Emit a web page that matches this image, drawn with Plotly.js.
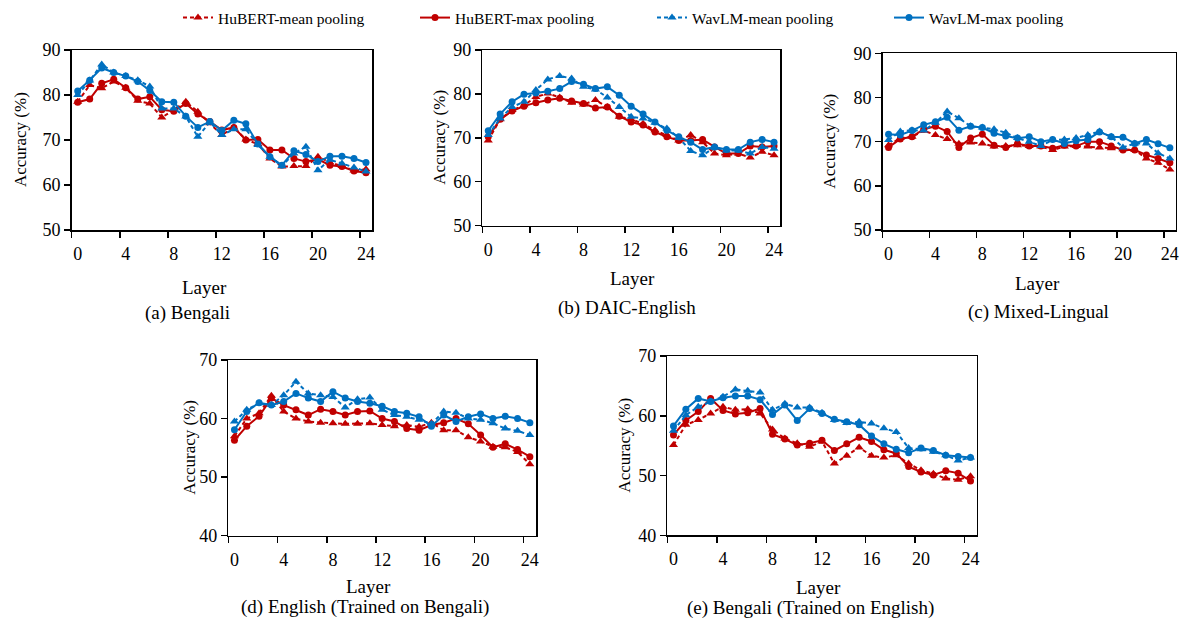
<!DOCTYPE html>
<html><head><meta charset="utf-8">
<script src="https://cdn.plot.ly/plotly-3.0.1.min.js"></script>
<style>html,body{margin:0;padding:0;background:#fff}#c{width:1185px;height:621px}</style>
</head><body><div id="c"></div>
<script>
const layers = [0,1,2,3,4,5,6,7,8,9,10,11,12,13,14,15,16,17,18,19,20,21,22,23,24];
const seriesNames = ["HuBERT-mean pooling","HuBERT-max pooling","WavLM-mean pooling","WavLM-max pooling"];
const panelCaptions = ["(a) Bengali","(b) DAIC-English","(c) Mixed-Lingual","(d) English (Trained on Bengali)","(e) Bengali (Trained on English)"];
const xTickVals = [0,4,8,12,16,20,24];

// (a) Bengali
const a_hubertMean = [78.5,82.2,81.5,83.0,81.6,78.7,78.1,75.0,76.7,78.5,76.3,73.7,71.1,72.8,70.1,69.1,65.9,64.1,64.2,64.2,66.3,65.0,64.2,63.2,63.5];
const a_hubertMax  = [78.4,79.1,82.6,83.5,81.6,79.1,79.6,76.7,76.4,78.1,75.8,74.1,72.2,72.8,70.0,70.1,67.8,67.8,65.9,65.2,65.7,64.4,64.1,63.1,62.7];
const a_wavlmMean  = [80.0,83.2,86.8,85.0,84.2,83.3,81.9,77.0,77.0,75.2,70.7,74.0,71.1,72.4,72.4,68.9,66.3,64.2,67.0,68.5,63.3,65.6,64.8,63.9,63.0];
const a_wavlmMax   = [80.9,83.3,86.0,85.0,84.2,83.0,81.0,78.5,78.4,75.3,72.8,74.1,72.1,74.4,73.6,69.1,66.3,64.4,67.6,66.8,65.2,66.4,66.4,65.9,65.0];
// (b) DAIC-English
const b_hubertMean = [69.4,74.2,76.3,77.4,79.3,80.1,79.2,78.0,77.6,78.6,77.0,74.8,74.2,73.2,71.7,70.6,69.4,70.6,69.0,66.4,66.0,66.4,65.5,66.8,66.0];
const b_hubertMax  = [70.2,74.2,76.1,77.2,78.0,78.6,79.0,78.4,77.8,76.8,77.0,74.9,73.6,72.9,71.3,70.2,69.4,69.4,69.6,67.9,66.4,66.4,68.1,67.9,68.1];
const b_wavlmMean  = [70.6,74.4,77.0,78.2,80.9,83.3,84.1,83.5,81.6,81.0,79.2,77.0,74.8,74.4,73.4,72.1,70.0,67.0,66.0,67.8,67.1,67.1,66.4,67.9,67.5];
const b_wavlmMax   = [71.6,75.4,78.2,79.9,80.2,80.6,81.2,82.8,82.2,81.2,81.6,79.7,77.2,75.4,73.6,71.7,70.2,69.0,67.3,67.9,67.3,67.3,69.0,69.6,69.0];
// (c) Mixed-Lingual
const c_hubertMean = [69.2,70.8,71.1,72.5,71.5,70.6,69.5,69.8,69.6,68.9,69.0,69.2,69.0,68.9,68.1,68.9,69.0,68.9,68.7,68.5,68.3,68.1,66.2,65.2,63.7];
const c_hubertMax  = [68.7,70.6,71.1,72.8,73.5,72.3,68.7,70.8,71.7,69.2,68.7,69.5,69.0,69.0,68.5,69.2,69.0,70.0,70.0,69.0,68.1,68.1,67.0,66.2,65.2];
const c_wavlmMean  = [70.4,72.3,72.6,72.5,74.3,76.8,75.3,73.5,73.2,72.8,72.0,70.8,70.0,69.0,70.4,70.5,70.8,71.5,72.3,71.1,68.7,69.6,69.6,67.4,66.2];
const c_wavlmMax   = [71.7,71.5,72.5,73.8,74.5,75.5,72.6,73.5,73.2,71.9,71.3,70.8,71.1,70.0,70.5,69.6,70.2,70.5,72.2,71.1,71.0,69.6,70.5,69.5,68.6];
// (d) English (Trained on Bengali)
const d_hubertMean = [57.0,60.0,60.9,63.9,61.2,60.0,59.5,59.3,59.2,59.1,59.1,59.2,58.9,58.7,58.9,58.6,59.3,58.0,58.0,56.8,56.1,55.2,55.1,54.3,52.2];
const d_hubertMax  = [56.3,58.7,60.4,63.5,62.3,61.5,60.6,61.6,61.2,60.6,61.2,61.3,60.0,59.5,58.3,58.0,58.9,59.3,60.0,59.1,57.2,55.1,55.7,54.7,53.5];
const d_wavlmMean  = [59.5,61.5,62.6,62.3,64.0,66.3,64.3,64.0,63.7,61.9,63.3,63.6,61.5,60.6,60.3,59.8,59.1,61.2,61.0,60.0,59.8,59.2,58.3,57.9,57.2];
const d_wavlmMax   = [58.1,61.2,62.7,62.3,62.9,64.3,63.5,62.9,64.6,63.5,62.9,62.6,62.1,61.2,60.9,60.3,58.7,60.6,59.5,60.3,60.8,60.0,60.4,60.0,59.3];
// (e) Bengali (Trained on English)
const e_hubertMean = [55.1,58.5,59.3,60.4,61.5,61.0,61.1,60.4,57.7,56.2,55.4,54.8,55.7,52.0,53.3,54.7,53.3,53.0,53.4,52.0,50.9,50.3,49.5,49.3,49.9];
const e_hubertMax  = [56.8,59.2,60.7,62.9,60.9,60.3,60.5,61.2,56.9,56.1,55.1,55.4,55.9,54.2,55.3,56.4,55.7,54.3,53.7,51.5,50.6,50.1,50.8,50.4,49.1];
const e_wavlmMean  = [57.5,60.1,61.5,62.4,63.2,64.4,64.2,63.9,61.0,62.0,61.4,61.4,60.5,59.3,58.8,59.0,58.7,57.9,57.3,54.6,54.4,54.0,53.4,52.5,53.0];
const e_wavlmMax   = [58.3,61.1,62.9,62.4,63.0,63.3,63.3,62.7,60.2,61.8,59.2,61.2,60.4,59.4,59.0,58.5,56.6,55.3,54.4,53.8,54.6,54.2,53.4,53.2,53.0];

const panels = [
  {data:[a_hubertMean,a_hubertMax,a_wavlmMean,a_wavlmMax], yr:[50,90], yt:[50,60,70,80,90], px:[71.7,372], py:[50,230], layer:[204,287], cap:[187,313], accX:20},
  {data:[b_hubertMean,b_hubertMax,b_wavlmMean,b_wavlmMax], yr:[50,90], yt:[50,60,70,80,90], px:[482.3,780], py:[50,225.5], layer:[632,278], cap:[627,308], accX:440},
  {data:[c_hubertMean,c_hubertMax,c_wavlmMean,c_wavlmMax], yr:[50,90], yt:[50,60,70,80,90], px:[882.7,1175.7], py:[53.3,230], layer:[1037,283], cap:[1038,312], accX:830},
  {data:[d_hubertMean,d_hubertMax,d_wavlmMean,d_wavlmMax], yr:[40,70], yt:[40,50,60,70], px:[228.3,536], py:[360,535.7], layer:[368,586], cap:[365,607], accX:190},
  {data:[e_hubertMean,e_hubertMax,e_wavlmMean,e_wavlmMax], yr:[40,70], yt:[40,50,60,70], px:[667.3,976.7], py:[356,535.3], layer:[818,587], cap:[810,608], accX:625}
];

const W = 1185, H = 621;
const RED = '#C00000', BLUE = '#0070C0';
const styles = [
  {color:RED, dash:'4px,3px', symbol:'triangle-up', size:8},
  {color:RED, dash:'solid', symbol:'circle', size:7},
  {color:BLUE, dash:'4px,3px', symbol:'triangle-up', size:8},
  {color:BLUE, dash:'solid', symbol:'circle', size:7}
];
const FONT = '"Liberation Serif", serif';

const traces = [];
const layout = {
  width: W, height: H,
  margin: {l:0, r:0, t:0, b:0},
  paper_bgcolor: '#fff', plot_bgcolor: '#fff',
  font: {family: FONT, size: 16, color: '#000'},
  showlegend: true,
  legend: {orientation:'h', x:178/W, xanchor:'left', y:1 - 1/H, yanchor:'top', font:{family:FONT, size:15.5, color:'#000'}, entrywidth:192, entrywidthmode:'pixels', tracegroupgap:0},
  annotations: []
};

panels.forEach((p, k) => {
  const n = k === 0 ? '' : String(k+1);
  p.data.forEach((vals, s) => {
    const st = styles[s];
    traces.push({
      x: layers, y: vals, xaxis: 'x'+n, yaxis: 'y'+n,
      type: 'scatter', mode: 'lines+markers',
      name: seriesNames[s], legendgroup: seriesNames[s], showlegend: k === 0,
      line: {color: st.color, width: 2, dash: st.dash},
      marker: {color: st.color, symbol: st.symbol, size: st.size}
    });
  });
  const minorVals = xTickVals.map(v => v - 0.5);
  layout['xaxis'+n] = {
    domain: [p.px[0]/W, p.px[1]/W], anchor: 'y'+n,
    range: [-0.5, 24.5], tickmode: 'array', tickvals: xTickVals,
    ticks: 'outside', ticklen: 7, tickcolor: 'rgba(0,0,0,0)',
    minor: {tickmode:'array', tickvals: minorVals, ticks:'outside', ticklen:6, tickwidth:1.5, tickcolor:'#000', showgrid:false},
    showline: true, mirror: true, linecolor: '#000', linewidth: 1.5,
    showgrid: false, zeroline: false, fixedrange: true,
    tickfont: {family: FONT, size: 18, color:'#000'}
  };
  layout['yaxis'+n] = {
    domain: [1 - p.py[1]/H, 1 - p.py[0]/H], anchor: 'x'+n,
    range: p.yr, tickmode: 'array', tickvals: p.yt,
    ticks: 'outside', ticklen: 6, tickwidth: 1.5, tickcolor: '#000',
    showline: true, mirror: true, linecolor: '#000', linewidth: 1.5,
    showgrid: false, zeroline: false, fixedrange: true,
    tickfont: {family: FONT, size: 18, color:'#000'}
  };
  layout.annotations.push({text:'Layer', xref:'paper', yref:'paper', x: p.layer[0]/W, y: 1 - p.layer[1]/H, xanchor:'center', yanchor:'middle', showarrow:false, font:{family:FONT, size:19, color:'#000'}});
  layout.annotations.push({text: panelCaptions[k], xref:'paper', yref:'paper', x: p.cap[0]/W, y: 1 - p.cap[1]/H, xanchor:'center', yanchor:'middle', showarrow:false, font:{family:FONT, size:19, color:'#000'}});
  layout.annotations.push({text:'Accuracy (%)', textangle:-90, xref:'paper', yref:'paper', x: p.accX/W, y: 1 - ((p.py[0]+p.py[1])/2)/H, xanchor:'center', yanchor:'middle', showarrow:false, font:{family:FONT, size:17, color:'#000'}});
});

Plotly.newPlot('c', traces, layout, {displayModeBar:false, staticPlot:true});
</script></body></html>
